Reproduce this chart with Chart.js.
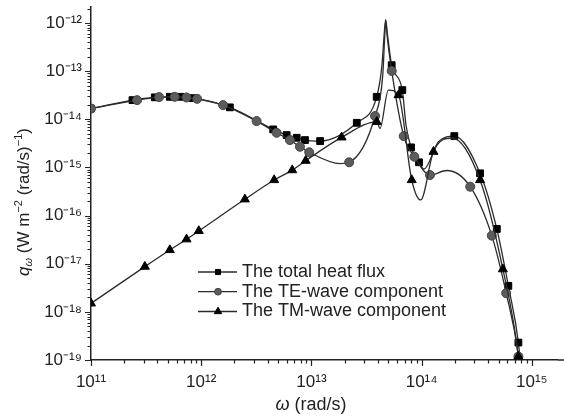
<!DOCTYPE html>
<html>
<head>
<meta charset="utf-8">
<script src="https://cdn.jsdelivr.net/npm/chart.js@4.4.0/dist/chart.umd.min.js"></script>
<style>
  html, body { margin: 0; padding: 0; background: #fff; }
</style>
</head>
<body>
<canvas id="c" width="564" height="419"></canvas>
<script>
// marked points (with symbols) of each series
const totalX = [1e11, 2.38e11, 3.79e11, 5.19e11, 6.49e11, 8.34e11, 1.82e12, 4.5e12, 5.96e12, 7.35e12, 8.74e12, 1.2e13, 2.58e13, 3.91e13, 5.35e13, 6.68e13, 8.02e13, 9.47e13, 1.98e14, 3.39e14, 4.81e14, 6.12e14, 7.55e14];
const totalY = [1.67e-14, 2.5e-14, 2.86e-14, 2.93e-14, 2.93e-14, 2.75e-14, 1.77e-14, 6.17e-15, 4.7e-15, 4.13e-15, 3.7e-15, 3.53e-15, 8.45e-15, 2.93e-14, 1.33e-13, 4.04e-14, 2.61e-15, 1.28e-15, 4.48e-15, 7.55e-16, 5.27e-17, 3.47e-18, 2.3e-19];
const teX = [1e11, 2.62e11, 4.15e11, 5.75e11, 7.35e11, 9.18e11, 1.58e12, 3.18e12, 4.83e12, 6.38e12, 7.87e12, 9.55e12, 2.2e13, 3.78e13, 5.35e13, 6.88e13, 8.59e13, 1.19e14, 2.76e14, 4.33e14, 5.85e14, 7.55e14];
const teY = [1.67e-14, 2.5e-14, 2.89e-14, 2.93e-14, 2.84e-14, 2.66e-14, 1.97e-14, 9.18e-15, 5.25e-15, 3.7e-15, 2.69e-15, 2.06e-15, 1.28e-15, 1.17e-14, 1.01e-13, 4.48e-15, 1.67e-15, 6.95e-16, 3.98e-16, 3.83e-17, 2.44e-18, 1.18e-19];
const tmX = [1e11, 3.08e11, 5.19e11, 7.36e11, 9.51e11, 2.49e12, 4.59e12, 6.7e12, 8.87e12, 1.88e13, 3.92e13, 6.17e13, 8.13e13, 1.28e14, 3.39e14, 5.46e14, 7.55e14];
const tmY = [1.5e-18, 8.7e-18, 1.93e-17, 3.22e-17, 4.8e-17, 2.18e-16, 5.48e-16, 8.8e-16, 1.38e-15, 4.22e-15, 8.87e-15, 3.18e-14, 5.48e-16, 2.12e-15, 5.48e-16, 7.7e-18, 1.18e-19];

// extra points on the curves without a symbol (peaks, dips, tail)
const totalLineX = [4.35e13, 4.58e13, 4.72e13, 4.88e13, 7.21e13, 1.05e14, 1.42e14, 8.3e14];
const totalLineY = [1.23e-13, 6.14e-13, 1.18e-12, 6.14e-13, 7.62e-15, 9.27e-16, 3.41e-15, 2e-20];
const teLineX = [1.82e13, 4.44e13, 4.63e13, 4.72e13, 4.88e13, 1.69e14, 8.3e14];
const teLineY = [1.2e-15, 8.26e-14, 5.58e-13, 1.09e-12, 5.07e-13, 8.63e-16, 1e-20];
const tmLineX = [4.19e13, 4.99e13, 9.8e13, 1.89e14, 8.3e14];
const tmLineY = [6.47e-15, 4.04e-14, 2.11e-16, 4.09e-15, 1e-20];

const seriesNames = ["The total heat flux", "The TE-wave component", "The TM-wave component"];

const xMin = 1e11, xMax = 1.72e15;
const yMin = 1e-19, yMax = 2.15e-12;

const FONT = "'Liberation Sans', Arial, Helvetica, sans-serif";
const INK = "#222";
const SUP = { "-": "\u207B", "0": "\u2070", "1": "\u00B9", "2": "\u00B2", "3": "\u00B3", "4": "\u2074", "5": "\u2075", "6": "\u2076", "7": "\u2077", "8": "\u2078", "9": "\u2079" };

function pow10Label(v) {
  const e = Math.round(Math.log10(v));
  return "10" + String(e).split("").map(c => SUP[c]).join("");
}

function decades(min, max) {
  const out = [];
  for (let e = Math.ceil(Math.log10(min) - 1e-9); e <= Math.floor(Math.log10(max) + 1e-9); e++) {
    out.push({ value: Math.pow(10, e) });
  }
  return out;
}

function logMarks(min, max) {
  const out = [];
  for (let e = Math.floor(Math.log10(min)); e <= Math.ceil(Math.log10(max)); e++) {
    for (let m = 1; m <= 9; m++) {
      const v = m * Math.pow(10, e);
      if (v >= min * 0.999 && v <= max * 1.001) out.push({ value: v, major: m === 1 });
    }
  }
  return out;
}

function series(mx, my, lx, ly) {
  const pts = mx.map((x, i) => ({ x, y: my[i], mark: true }))
    .concat(lx.map((x, i) => ({ x, y: ly[i], mark: false })));
  return pts.sort((a, b) => a.x - b.x);
}

const markR = (r) => (c) => (c.raw && c.raw.mark ? r : 0);

// tick marks: long at decades, short in between, pointing out
const axisTicks = {
  id: "axisTicks",
  afterDraw(chart) {
    const { ctx, scales: { x, y } } = chart;
    ctx.save();
    ctx.strokeStyle = INK;
    ctx.lineWidth = 1.5;
    // x axis line runs on to the edge of the figure
    ctx.beginPath();
    ctx.moveTo(x.right, x.top);
    ctx.lineTo(chart.width, x.top);
    ctx.stroke();
    ctx.lineWidth = 1.2;
    ctx.beginPath();
    for (const t of logMarks(x.min, x.max)) {
      const px = Math.round(x.getPixelForValue(t.value)) + 0.5;
      ctx.moveTo(px, x.top);
      ctx.lineTo(px, x.top + (t.major ? 6 : 3.5));
    }
    for (const t of logMarks(y.min, y.max)) {
      const py = Math.round(y.getPixelForValue(t.value)) + 0.5;
      ctx.moveTo(y.right, py);
      ctx.lineTo(y.right - (t.major ? 6 : 3.5), py);
    }
    ctx.stroke();
    ctx.restore();
  }
};

// axis titles with italic symbols and sub/superscripts
function drawPieces(ctx, pieces, cx, baseY) {
  let w = 0;
  for (const p of pieces) { ctx.font = p.font; w += ctx.measureText(p.t).width; }
  let x = cx - w / 2;
  for (const p of pieces) {
    ctx.font = p.font;
    ctx.fillText(p.t, x, baseY + (p.dy || 0));
    x += ctx.measureText(p.t).width;
  }
}

const axisTitles = {
  id: "axisTitles",
  afterDraw(chart) {
    const ctx = chart.ctx;
    ctx.save();
    ctx.fillStyle = INK;
    ctx.textBaseline = "alphabetic";
    ctx.textAlign = "left";
    drawPieces(ctx, [
      { t: "\u03C9", font: "italic 18px " + FONT },
      { t: " (rad/s)", font: "18px " + FONT }
    ], 311, 410);
    const big = "17px " + FONT, bigI = "italic 17px " + FONT;
    const small = "11px " + FONT, smallI = "italic 11px " + FONT;
    ctx.translate(28.5, 202);
    ctx.rotate(-Math.PI / 2);
    drawPieces(ctx, [
      { t: "q", font: bigI },
      { t: "\u03C9", font: smallI, dy: 3 },
      { t: " (W m", font: big },
      { t: "\u22122", font: small, dy: -7 },
      { t: " (rad/s)", font: big },
      { t: "\u22121", font: small, dy: -7 },
      { t: ")", font: big }
    ], 0, 0);
    ctx.restore();
  }
};

// legend inside the plot, lower middle
const innerLegend = {
  id: "innerLegend",
  afterDraw(chart) {
    const ctx = chart.ctx;
    const rows = [272, 291.7, 311.5];
    const styles = [
      { pointStyle: "rect", radius: 3.6, fill: "#000", stroke: "#000" },
      { pointStyle: "circle", radius: 3.4, fill: "#5c5c5c", stroke: "#444" },
      { pointStyle: "triangle", radius: 4.3, fill: "#000", stroke: "#000" }
    ];
    ctx.save();
    chart.data.datasets.forEach((ds, i) => {
      const yy = rows[i];
      ctx.strokeStyle = "#2b2b2b";
      ctx.lineWidth = 1.3;
      ctx.beginPath();
      ctx.moveTo(198, yy);
      ctx.lineTo(237, yy);
      ctx.stroke();
      const s = styles[i];
      ctx.fillStyle = s.fill;
      ctx.strokeStyle = s.stroke;
      ctx.lineWidth = 1;
      Chart.helpers.drawPoint(ctx, { pointStyle: s.pointStyle, radius: s.radius, rotation: 0, borderWidth: 1 }, 218, yy);
      ctx.fillStyle = INK;
      ctx.font = "18px " + FONT;
      ctx.textBaseline = "middle";
      ctx.fillText(ds.label, 242, yy);
    });
    ctx.restore();
  }
};

const tickFont = { family: FONT, size: 17 };

new Chart(document.getElementById("c"), {
  type: "line",
  data: {
    datasets: [
      {
        label: seriesNames[0],
        data: series(totalX, totalY, totalLineX, totalLineY),
        borderColor: "#2b2b2b", borderWidth: 1.3,
        pointStyle: "rect", pointRadius: markR(4.8),
        pointBackgroundColor: "#000", pointBorderColor: "#000", pointBorderWidth: 1,
        cubicInterpolationMode: "monotone", order: 2
      },
      {
        label: seriesNames[1],
        data: series(teX, teY, teLineX, teLineY),
        borderColor: "#2b2b2b", borderWidth: 1.3,
        pointStyle: "circle", pointRadius: markR(4.5),
        pointBackgroundColor: "#5c5c5c", pointBorderColor: "#444", pointBorderWidth: 1,
        cubicInterpolationMode: "monotone", order: 1
      },
      {
        label: seriesNames[2],
        data: series(tmX, tmY, tmLineX, tmLineY),
        borderColor: "#2b2b2b", borderWidth: 1.3,
        pointStyle: "triangle", pointRadius: markR(5.2),
        pointBackgroundColor: "#000", pointBorderColor: "#000", pointBorderWidth: 1,
        cubicInterpolationMode: "monotone", order: 0
      }
    ]
  },
  options: {
    responsive: false,
    devicePixelRatio: 1,
    animation: false,
    events: [],
    layout: { padding: { top: 7, right: 0, left: 0, bottom: 0 } },
    plugins: { legend: { display: false }, tooltip: { enabled: false } },
    scales: {
      x: {
        type: "logarithmic",
        position: "bottom",
        min: xMin, max: xMax,
        bounds: "data",
        grid: { display: false, drawTicks: false },
        border: { display: true, color: INK, width: 1.5 },
        ticks: { font: tickFont, color: INK, padding: 12, autoSkip: false, maxRotation: 0, callback: (v) => pow10Label(v) },
        afterBuildTicks: (s) => { s.ticks = decades(s.min, s.max); },
        afterFit: (s) => { s.height = 59; s.paddingLeft = 0; s.paddingRight = 0; }
      },
      y: {
        type: "logarithmic",
        position: "left",
        min: yMin, max: yMax,
        bounds: "data",
        grid: { display: false, drawTicks: false },
        border: { display: true, color: INK, width: 1.5 },
        ticks: { font: tickFont, color: INK, padding: 9, autoSkip: false, callback: (v) => pow10Label(v) },
        afterBuildTicks: (s) => { s.ticks = decades(s.min, s.max); },
        afterFit: (s) => { s.width = 91; s.paddingTop = 0; s.paddingBottom = 0; }
      }
    }
  },
  plugins: [axisTicks, axisTitles, innerLegend]
});
</script>
</body>
</html>
